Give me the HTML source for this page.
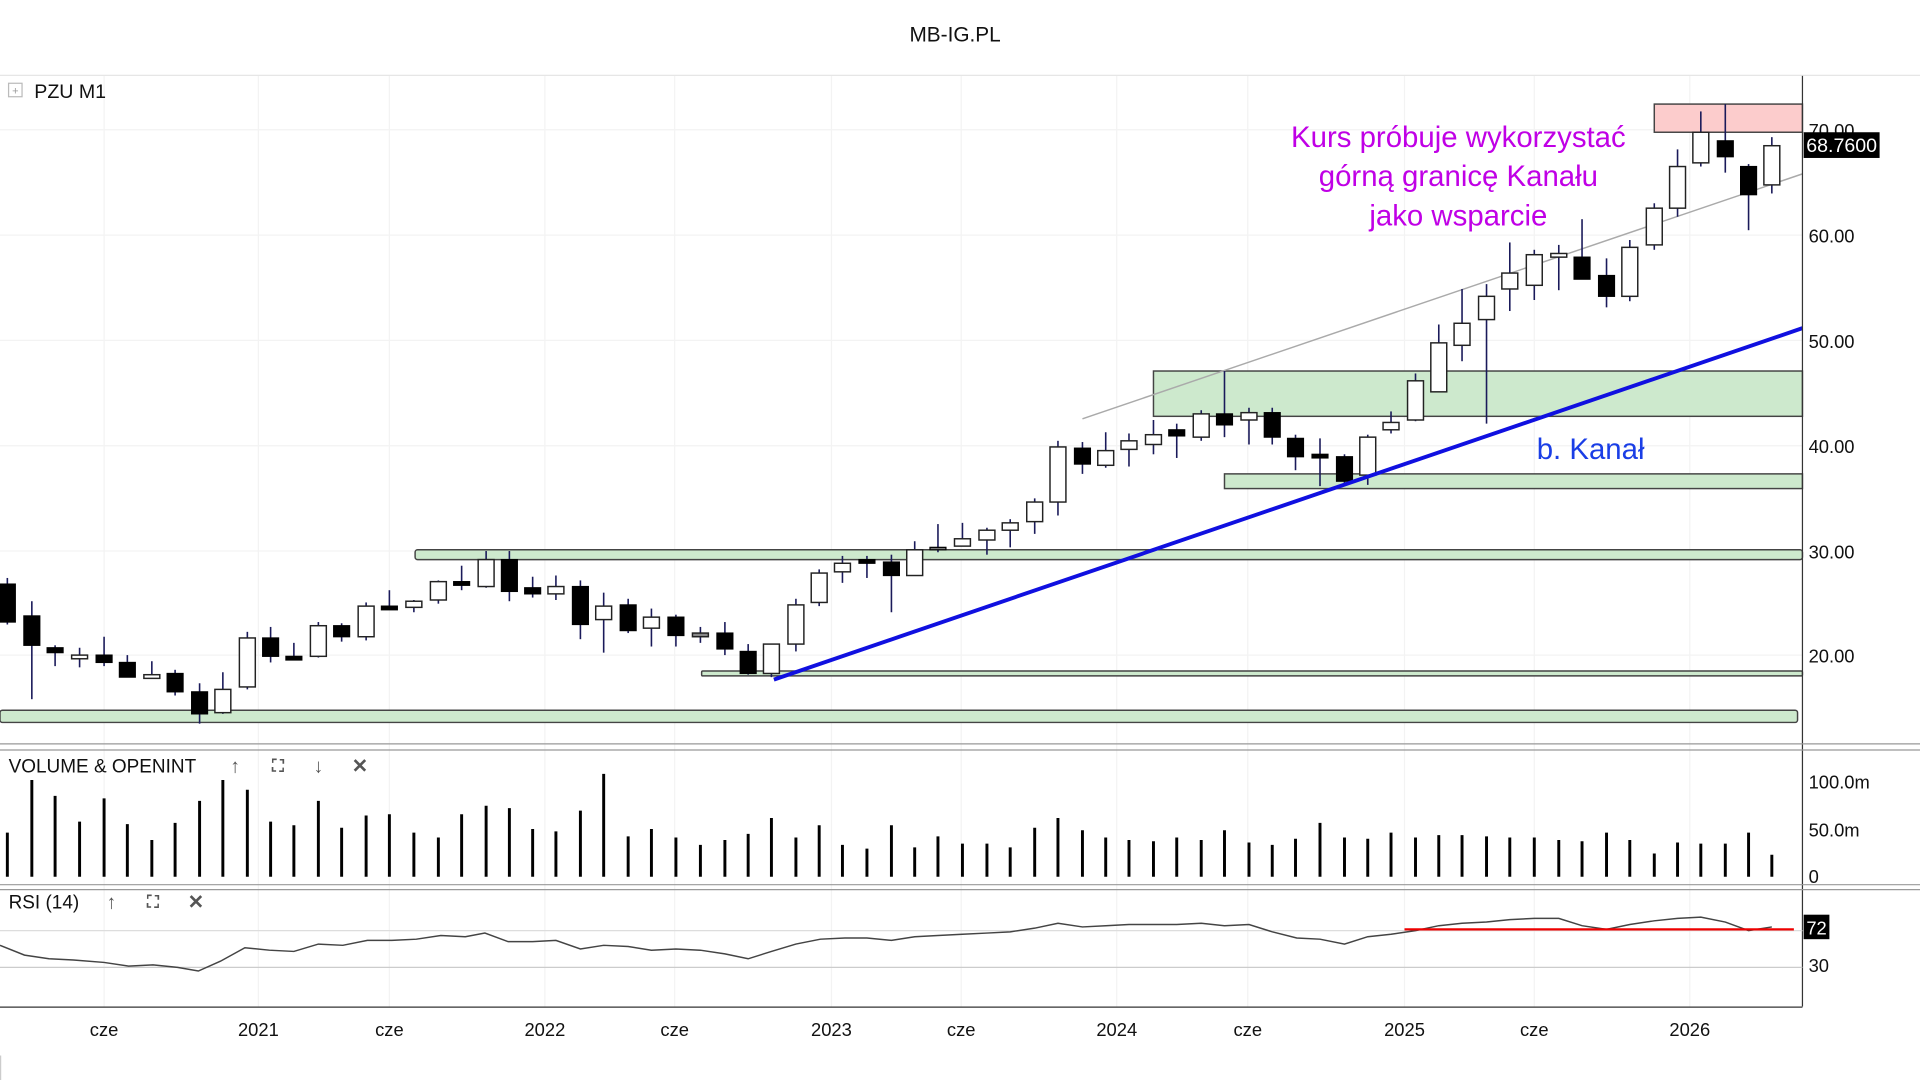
<!DOCTYPE html>
<html><head><meta charset="utf-8"><style>
html,body{margin:0;padding:0;background:#fff;width:1920px;height:1080px;overflow:hidden}
svg{display:block}
text{font-family:"Liberation Sans",sans-serif}
.w{stroke:#1a1a5a;stroke-width:1.3}
.b{fill:#000;stroke:#000;stroke-width:1}
.o{fill:#fff;stroke:#222;stroke-width:1.2}
.g{stroke:#f3f3f3;stroke-width:1}
.z{fill:#cde9cd;stroke:#444;stroke-width:1.2}
.v{stroke:#000;stroke-width:2.4}
.ax{font-size:15px;fill:#111}
.ic{font-weight:bold;fill:#555}
</style></head><body>
<svg width="1920" height="1080" viewBox="0 0 1568 882" xmlns="http://www.w3.org/2000/svg">
<text x="780" y="34" font-size="17" text-anchor="middle" fill="#111">MB-IG.PL</text>
<line x1="0" y1="61.5" x2="1568" y2="61.5" stroke="#e2e2e2"/>
<g class="g">
<line x1="0" x2="1472" y1="106" y2="106"/><line x1="0" x2="1472" y1="192" y2="192"/><line x1="0" x2="1472" y1="278" y2="278"/><line x1="0" x2="1472" y1="364" y2="364"/><line x1="0" x2="1472" y1="450" y2="450"/><line x1="0" x2="1472" y1="535" y2="535"/>
<line x1="85" x2="85" y1="62" y2="822"/><line x1="211" x2="211" y1="62" y2="822"/><line x1="318" x2="318" y1="62" y2="822"/><line x1="445" x2="445" y1="62" y2="822"/><line x1="551" x2="551" y1="62" y2="822"/><line x1="679" x2="679" y1="62" y2="822"/><line x1="785" x2="785" y1="62" y2="822"/><line x1="912" x2="912" y1="62" y2="822"/><line x1="1019" x2="1019" y1="62" y2="822"/><line x1="1147" x2="1147" y1="62" y2="822"/><line x1="1253" x2="1253" y1="62" y2="822"/><line x1="1380" x2="1380" y1="62" y2="822"/>
</g>
<rect class="z" x="0" y="580" width="1468" height="10" rx="2"/>
<rect class="z" x="573" y="548" width="899" height="4" rx="1"/>
<rect class="z" x="339" y="449" width="1133" height="8" rx="2"/>
<rect class="z" x="1000" y="387" width="472" height="12"/>
<rect class="z" x="942" y="303" width="530" height="37"/>
<rect x="1351" y="85" width="121" height="23" fill="#fccccc" stroke="#444" stroke-width="1.2"/>
<line x1="1409" y1="85" x2="1409" y2="108" stroke="#444"/>
<line x1="884" y1="342" x2="1472" y2="142" stroke="#aaa" stroke-width="1.2"/>
<g>
<line class="w" x1="6" x2="6" y1="472" y2="510"/><rect class="b" x="-0.5" y="477" width="13" height="31"/>
<line class="w" x1="26" x2="26" y1="491" y2="571"/><rect class="b" x="19.5" y="503" width="13" height="24"/>
<line class="w" x1="45" x2="45" y1="527" y2="544"/><rect class="b" x="38.5" y="529" width="13" height="4"/>
<line class="w" x1="65" x2="65" y1="529" y2="545"/><rect class="o" x="58.5" y="535" width="13" height="3"/>
<line class="w" x1="85" x2="85" y1="520" y2="544"/><rect class="b" x="78.5" y="535" width="13" height="6"/>
<line class="w" x1="104" x2="104" y1="535" y2="553"/><rect class="b" x="97.5" y="541" width="13" height="12"/>
<line class="w" x1="124" x2="124" y1="540" y2="554"/><rect class="o" x="117.5" y="551" width="13" height="3"/>
<line class="w" x1="143" x2="143" y1="547" y2="568"/><rect class="b" x="136.5" y="550" width="13" height="15"/>
<line class="w" x1="163" x2="163" y1="558" y2="591"/><rect class="b" x="156.5" y="565" width="13" height="18"/>
<line class="w" x1="182" x2="182" y1="549" y2="583"/><rect class="o" x="175.5" y="563" width="13" height="19"/>
<line class="w" x1="202" x2="202" y1="516" y2="563"/><rect class="o" x="195.5" y="521" width="13" height="40"/>
<line class="w" x1="221" x2="221" y1="512" y2="541"/><rect class="b" x="214.5" y="521" width="13" height="15"/>
<line class="w" x1="240" x2="240" y1="525" y2="539"/><rect class="b" x="233.5" y="536" width="13" height="3"/>
<line class="w" x1="260" x2="260" y1="508" y2="537"/><rect class="o" x="253.5" y="511" width="13" height="25"/>
<line class="w" x1="279" x2="279" y1="509" y2="524"/><rect class="b" x="272.5" y="511" width="13" height="9"/>
<line class="w" x1="299" x2="299" y1="492" y2="523"/><rect class="o" x="292.5" y="495" width="13" height="25"/>
<line class="w" x1="318" x2="318" y1="482" y2="498"/><rect class="b" x="311.5" y="495" width="13" height="3"/>
<line class="w" x1="338" x2="338" y1="490" y2="500"/><rect class="o" x="331.5" y="491" width="13" height="5"/>
<line class="w" x1="358" x2="358" y1="474" y2="493"/><rect class="o" x="351.5" y="475" width="13" height="15"/>
<line class="w" x1="377" x2="377" y1="462" y2="482"/><rect class="b" x="370.5" y="475" width="13" height="3"/>
<line class="w" x1="397" x2="397" y1="450" y2="480"/><rect class="o" x="390.5" y="457" width="13" height="22"/>
<line class="w" x1="416" x2="416" y1="450" y2="491"/><rect class="b" x="409.5" y="457" width="13" height="26"/>
<line class="w" x1="435" x2="435" y1="471" y2="488"/><rect class="b" x="428.5" y="480" width="13" height="5"/>
<line class="w" x1="454" x2="454" y1="470" y2="490"/><rect class="o" x="447.5" y="479" width="13" height="6"/>
<line class="w" x1="474" x2="474" y1="474" y2="522"/><rect class="b" x="467.5" y="479" width="13" height="31"/>
<line class="w" x1="493" x2="493" y1="484" y2="533"/><rect class="o" x="486.5" y="495" width="13" height="11"/>
<line class="w" x1="513" x2="513" y1="489" y2="517"/><rect class="b" x="506.5" y="494" width="13" height="21"/>
<line class="w" x1="532" x2="532" y1="497" y2="528"/><rect class="o" x="525.5" y="504" width="13" height="9"/>
<line class="w" x1="552" x2="552" y1="502" y2="528"/><rect class="b" x="545.5" y="504" width="13" height="15"/>
<line class="w" x1="572" x2="572" y1="512" y2="525"/><rect class="o" x="565.5" y="517" width="13" height="3" style="fill:#888"/>
<line class="w" x1="592" x2="592" y1="508" y2="535"/><rect class="b" x="585.5" y="517" width="13" height="13"/>
<line class="w" x1="611" x2="611" y1="526" y2="551"/><rect class="b" x="604.5" y="532" width="13" height="18"/>
<line class="w" x1="630" x2="630" y1="526" y2="553"/><rect class="o" x="623.5" y="526" width="13" height="24"/>
<line class="w" x1="650" x2="650" y1="489" y2="532"/><rect class="o" x="643.5" y="494" width="13" height="32"/>
<line class="w" x1="669" x2="669" y1="465" y2="495"/><rect class="o" x="662.5" y="468" width="13" height="24"/>
<line class="w" x1="688" x2="688" y1="454" y2="476"/><rect class="o" x="681.5" y="460" width="13" height="7"/>
<line class="w" x1="708" x2="708" y1="454" y2="472"/><rect class="b" x="701.5" y="457" width="13" height="3"/>
<line class="w" x1="728" x2="728" y1="453" y2="500"/><rect class="b" x="721.5" y="459" width="13" height="11"/>
<line class="w" x1="747" x2="747" y1="442" y2="470"/><rect class="o" x="740.5" y="449" width="13" height="21"/>
<line class="w" x1="766" x2="766" y1="428" y2="451"/><rect class="b" x="759.5" y="447" width="13" height="2" style="fill:#777"/>
<line class="w" x1="786" x2="786" y1="427" y2="446"/><rect class="o" x="779.5" y="440" width="13" height="6"/>
<line class="w" x1="806" x2="806" y1="431" y2="453"/><rect class="o" x="799.5" y="433" width="13" height="8"/>
<line class="w" x1="825" x2="825" y1="424" y2="447"/><rect class="o" x="818.5" y="427" width="13" height="6"/>
<line class="w" x1="845" x2="845" y1="407" y2="436"/><rect class="o" x="838.5" y="410" width="13" height="16"/>
<line class="w" x1="864" x2="864" y1="360" y2="421"/><rect class="o" x="857.5" y="365" width="13" height="45"/>
<line class="w" x1="884" x2="884" y1="361" y2="387"/><rect class="b" x="877.5" y="366" width="13" height="13"/>
<line class="w" x1="903" x2="903" y1="353" y2="382"/><rect class="o" x="896.5" y="368" width="13" height="12"/>
<line class="w" x1="922" x2="922" y1="354" y2="381"/><rect class="o" x="915.5" y="360" width="13" height="7"/>
<line class="w" x1="942" x2="942" y1="343" y2="371"/><rect class="o" x="935.5" y="355" width="13" height="8"/>
<line class="w" x1="961" x2="961" y1="346" y2="374"/><rect class="b" x="954.5" y="351" width="13" height="5"/>
<line class="w" x1="981" x2="981" y1="335" y2="360"/><rect class="o" x="974.5" y="338" width="13" height="19"/>
<line class="w" x1="1000" x2="1000" y1="303" y2="357"/><rect class="b" x="993.5" y="338" width="13" height="9"/>
<line class="w" x1="1020" x2="1020" y1="333" y2="363"/><rect class="o" x="1013.5" y="337" width="13" height="6"/>
<line class="w" x1="1039" x2="1039" y1="333" y2="363"/><rect class="b" x="1032.5" y="337" width="13" height="20"/>
<line class="w" x1="1058" x2="1058" y1="355" y2="384"/><rect class="b" x="1051.5" y="358" width="13" height="15"/>
<line class="w" x1="1078" x2="1078" y1="358" y2="397"/><rect class="b" x="1071.5" y="371" width="13" height="3"/>
<line class="w" x1="1098" x2="1098" y1="371" y2="395"/><rect class="b" x="1091.5" y="373" width="13" height="20"/>
<line class="w" x1="1117" x2="1117" y1="355" y2="396"/><rect class="o" x="1110.5" y="357" width="13" height="31"/>
<line class="w" x1="1136" x2="1136" y1="336" y2="354"/><rect class="o" x="1129.5" y="345" width="13" height="6"/>
<line class="w" x1="1156" x2="1156" y1="305" y2="344"/><rect class="o" x="1149.5" y="311" width="13" height="32"/>
<line class="w" x1="1175" x2="1175" y1="265" y2="320"/><rect class="o" x="1168.5" y="280" width="13" height="40"/>
<line class="w" x1="1194" x2="1194" y1="236" y2="295"/><rect class="o" x="1187.5" y="264" width="13" height="18"/>
<line class="w" x1="1214" x2="1214" y1="232" y2="346"/><rect class="o" x="1207.5" y="242" width="13" height="19"/>
<line class="w" x1="1233" x2="1233" y1="198" y2="254"/><rect class="o" x="1226.5" y="223" width="13" height="13"/>
<line class="w" x1="1253" x2="1253" y1="204" y2="245"/><rect class="o" x="1246.5" y="208" width="13" height="25"/>
<line class="w" x1="1273" x2="1273" y1="200" y2="237"/><rect class="o" x="1266.5" y="207" width="13" height="3"/>
<line class="w" x1="1292" x2="1292" y1="179" y2="228"/><rect class="b" x="1285.5" y="210" width="13" height="18"/>
<line class="w" x1="1312" x2="1312" y1="211" y2="251"/><rect class="b" x="1305.5" y="225" width="13" height="17"/>
<line class="w" x1="1331" x2="1331" y1="196" y2="246"/><rect class="o" x="1324.5" y="202" width="13" height="40"/>
<line class="w" x1="1351" x2="1351" y1="166" y2="204"/><rect class="o" x="1344.5" y="170" width="13" height="30"/>
<line class="w" x1="1370" x2="1370" y1="122" y2="177"/><rect class="o" x="1363.5" y="136" width="13" height="34"/>
<line class="w" x1="1389" x2="1389" y1="91" y2="136"/><rect class="o" x="1382.5" y="108" width="13" height="25"/>
<line class="w" x1="1409" x2="1409" y1="85" y2="141"/><rect class="b" x="1402.5" y="115" width="13" height="13"/>
<line class="w" x1="1428" x2="1428" y1="134" y2="188"/><rect class="b" x="1421.5" y="136" width="13" height="23"/>
<line class="w" x1="1447" x2="1447" y1="112" y2="158"/><rect class="o" x="1440.5" y="119" width="13" height="32"/>
</g>
<line x1="632" y1="555" x2="1472" y2="268" stroke="#1010e0" stroke-width="3.2"/>
<text x="1191" y="120" font-size="24" fill="#c000e6" text-anchor="middle">Kurs próbuje wykorzystać</text>
<text x="1191" y="152" font-size="24" fill="#c000e6" text-anchor="middle">górną granicę Kanału</text>
<text x="1191" y="184" font-size="24" fill="#c000e6" text-anchor="middle">jako wsparcie</text>
<text x="1299" y="375" font-size="24" fill="#1a3ee6" text-anchor="middle">b. Kanał</text>
<rect x="7" y="68" width="11" height="11" fill="none" stroke="#bbb"/><text x="12.5" y="77" font-size="9" fill="#999" text-anchor="middle">+</text>
<text x="28" y="80" font-size="16" fill="#111">PZU  M1</text>
<line x1="1472" y1="62" x2="1472" y2="822" stroke="#333"/>
<g class="ax">
<text x="1477" y="112">70.00</text><text x="1477" y="198">60.00</text><text x="1477" y="284">50.00</text><text x="1477" y="370">40.00</text><text x="1477" y="456">30.00</text><text x="1477" y="541">20.00</text>
</g>
<rect x="1473" y="108" width="62" height="21" fill="#000"/>
<text x="1504" y="124" font-size="16" fill="#fff" text-anchor="middle">68.7600</text>
<line x1="0" y1="607.5" x2="1568" y2="607.5" stroke="#999"/>
<line x1="0" y1="612.5" x2="1568" y2="612.5" stroke="#999"/>
<line x1="0" y1="722.5" x2="1568" y2="722.5" stroke="#999"/>
<line x1="0" y1="726.5" x2="1568" y2="726.5" stroke="#999"/>
<line x1="0" y1="822.5" x2="1472" y2="822.5" stroke="#333"/>
<text x="7" y="631" font-size="15.5" fill="#111">VOLUME &amp; OPENINT</text>
<text x="192" y="631" font-size="16" class="ic" text-anchor="middle">↑</text>
<text x="227" y="630" font-size="14" class="ic" text-anchor="middle">⛶</text>
<text x="260" y="631" font-size="16" class="ic" text-anchor="middle">↓</text>
<text x="294" y="631" font-size="16" class="ic" text-anchor="middle">✕</text>
<g class="ax"><text x="1477" y="644">100.0m</text><text x="1477" y="683">50.0m</text><text x="1477" y="721">0</text></g>
<path class="v" d="M6 716V680M26 716V637M45 716V650M65 716V671M85 716V652M104 716V673M124 716V686M143 716V672M163 716V654M182 716V637M202 716V645M221 716V671M240 716V674M260 716V654M279 716V676M299 716V666M318 716V665M338 716V680M358 716V684M377 716V665M397 716V658M416 716V660M435 716V677M454 716V679M474 716V662M493 716V632M513 716V683M532 716V677M552 716V684M572 716V690M592 716V686M611 716V681M630 716V668M650 716V684M669 716V674M688 716V690M708 716V693M728 716V674M747 716V692M766 716V683M786 716V689M806 716V689M825 716V692M845 716V676M864 716V668M884 716V678M903 716V684M922 716V686M942 716V687M961 716V684M981 716V686M1000 716V678M1020 716V688M1039 716V690M1058 716V685M1078 716V672M1098 716V684M1117 716V685M1136 716V680M1156 716V684M1175 716V682M1194 716V682M1214 716V683M1233 716V684M1253 716V684M1273 716V686M1292 716V687M1312 716V680M1331 716V686M1351 716V697M1370 716V688M1389 716V689M1409 716V689M1428 716V680M1447 716V698"/>
<text x="7" y="742" font-size="15.5" fill="#111">RSI (14)</text>
<text x="91" y="742" font-size="16" class="ic" text-anchor="middle">↑</text>
<text x="125" y="741" font-size="14" class="ic" text-anchor="middle">⛶</text>
<text x="160" y="742" font-size="16" class="ic" text-anchor="middle">✕</text>
<line x1="0" y1="760" x2="1472" y2="760" stroke="#ddd"/>
<line x1="0" y1="790" x2="1472" y2="790" stroke="#ccc"/>
<polyline fill="none" stroke="#444" stroke-width="1.2" points="0,772 20,780 40,783 60,784 85,786 105,789 125,788 145,790 162,793 180,785 200,774 220,776 240,777 260,771 280,772 300,768 320,768 340,767 360,764 380,765 396,762 415,769 435,769 454,768 474,775 493,772 513,773 532,776 552,775 572,776 592,779 611,783 630,777 650,771 670,767 690,766 708,766 728,768 747,765 766,764 786,763 806,762 825,761 845,758 864,754 884,757 903,756 922,755 942,755 961,755 981,754 1000,756 1020,755 1039,761 1059,766 1078,767 1098,771 1117,765 1136,763 1156,760 1175,756 1194,754 1214,753 1233,751 1253,750 1273,750 1292,756 1312,759 1331,755 1351,752 1370,750 1389,749 1409,753 1428,760 1447,757"/>
<line x1="1147" y1="759" x2="1465" y2="759" stroke="#e00" stroke-width="1.8"/>
<text x="1477" y="794" class="ax">30</text>
<rect x="1473" y="747" width="21" height="20" fill="#000"/>
<text x="1483.5" y="763" font-size="15" fill="#fff" text-anchor="middle">72</text>
<g class="ax" text-anchor="middle">
<text x="85" y="846">cze</text><text x="211" y="846">2021</text><text x="318" y="846">cze</text><text x="445" y="846">2022</text><text x="551" y="846">cze</text><text x="679" y="846">2023</text><text x="785" y="846">cze</text><text x="912" y="846">2024</text><text x="1019" y="846">cze</text><text x="1147" y="846">2025</text><text x="1253" y="846">cze</text><text x="1380" y="846">2026</text>
</g>
<line x1="0.5" y1="862" x2="0.5" y2="882" stroke="#ccc"/>
</svg>
</body></html>
